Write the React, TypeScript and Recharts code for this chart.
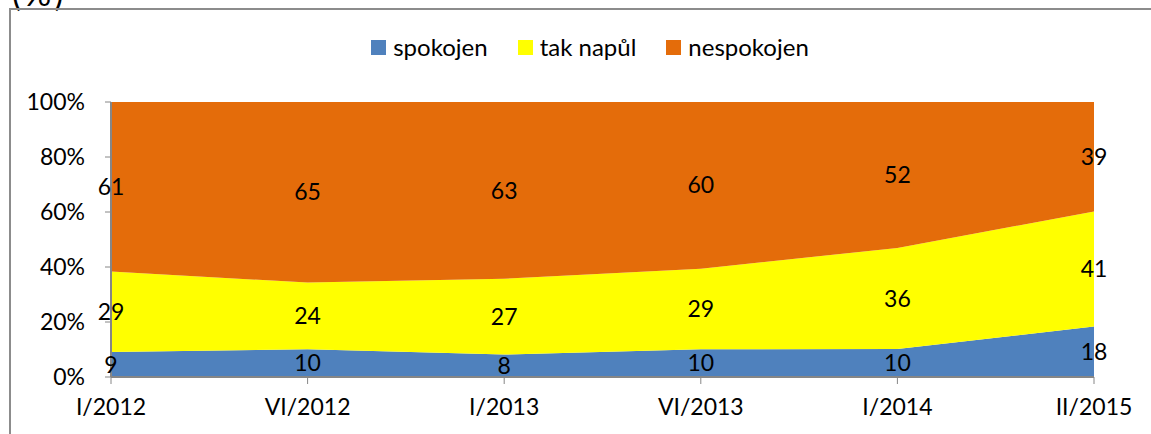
import React from "react";
import { AreaChart, Area, XAxis, YAxis, LabelList } from "recharts";

const categories = ["I/2012", "VI/2012", "I/2013", "VI/2013", "I/2014", "II/2015"];
const spokojen = [9, 10, 8, 10, 10, 18];
const takNapul = [29, 24, 27, 29, 36, 41];
const nespokojen = [61, 65, 63, 60, 52, 39];
const yTicks = [0, 0.2, 0.4, 0.6, 0.8, 1];

const seriesNames = ["spokojen", "tak napůl", "nespokojen"];
const seriesColors = ["#4F81BD", "#FFFF00", "#E46C0A"];

const data = categories.map((c, i) => ({
  cat: c,
  s: spokojen[i],
  t: takNapul[i],
  n: nespokojen[i],
}));

const W = 1151;
const H = 434;
const margin = { top: 102, right: 57, bottom: 0, left: 0 };
const Y_AXIS_W = 111;
const X_AXIS_H = 57;
const plotH = H - margin.top - X_AXIS_H;
const FONT = "Lato, 'Open Sans', sans-serif";
const FS = 23;

const totals = categories.map((_, i) => spokojen[i] + takNapul[i] + nespokojen[i]);

const makeLabel = (arr: number[]) => (props: any) => {
  const { x, y, index } = props;
  const v = arr[index];
  const half = ((v / totals[index]) * plotH) / 2;
  return (
    <text x={x} y={y + half} dy="0.355em" textAnchor="middle" fontSize={FS} fontFamily={FONT} fill="#000">
      {v}
    </text>
  );
};

const LegendBox = () => (
  <div
    style={{
      position: "absolute",
      left: 0,
      top: 33,
      width: 1180,
      display: "flex",
      justifyContent: "center",
      alignItems: "center",
      fontFamily: FONT,
      fontSize: 24,
      lineHeight: "28px",
      color: "#000",
    }}
  >
    {seriesNames.map((n, i) => (
      <div key={n} style={{ display: "flex", alignItems: "center", marginRight: i < 2 ? 30 : 0 }}>
        <span style={{ width: 15, height: 15, background: seriesColors[i], display: "inline-block", marginRight: 7 }} />
        <span>{n}</span>
      </div>
    ))}
  </div>
);

export default function App() {
  return (
    <div style={{ position: "absolute", left: 0, top: 0, width: W, height: H, overflow: "hidden", background: "#fff" }}>
      <div
        style={{
          position: "absolute",
          left: 12,
          top: -24,
          fontFamily: FONT,
          fontSize: 34,
          lineHeight: "34px",
          letterSpacing: 3,
          color: "#000",
        }}
      >
        (%)
      </div>
      <div
        style={{
          position: "absolute",
          left: 9,
          top: 8,
          width: W,
          height: H,
          borderLeft: "2px solid #8c8c8c",
          borderTop: "2px solid #8c8c8c",
        }}
      />
      <LegendBox />
      <div style={{ position: "absolute", left: 0, top: 0 }}>
        <AreaChart width={W} height={H} data={data} margin={margin} stackOffset="expand">
          <XAxis
            dataKey="cat"
            height={X_AXIS_H}
            tickLine={{ stroke: "#868686" }}
            axisLine={{ stroke: "#868686", strokeWidth: 2 }}
            tickSize={7}
            tickMargin={15}
            tick={{ fill: "#000", fontSize: FS, fontFamily: FONT }}
            interval={0}
          />
          <YAxis
            type="number"
            domain={[0, 1]}
            ticks={yTicks}
            tickFormatter={(v: number) => `${Math.round(v * 100)}%`}
            tickLine={{ stroke: "#868686" }}
            axisLine={{ stroke: "#868686", strokeWidth: 2 }}
            tickSize={6}
            tickMargin={20}
            tick={{ fill: "#000", fontSize: FS, fontFamily: FONT }}
            width={Y_AXIS_W}
          />
          <Area type="linear" dataKey="s" name={seriesNames[0]} stackId="1" stroke="none" fill={seriesColors[0]} fillOpacity={1} isAnimationActive={false}>
            <LabelList dataKey="s" content={makeLabel(spokojen)} />
          </Area>
          <Area type="linear" dataKey="t" name={seriesNames[1]} stackId="1" stroke="none" fill={seriesColors[1]} fillOpacity={1} isAnimationActive={false}>
            <LabelList dataKey="t" content={makeLabel(takNapul)} />
          </Area>
          <Area type="linear" dataKey="n" name={seriesNames[2]} stackId="1" stroke="none" fill={seriesColors[2]} fillOpacity={1} isAnimationActive={false}>
            <LabelList dataKey="n" content={makeLabel(nespokojen)} />
          </Area>
        </AreaChart>
      </div>
    </div>
  );
}
